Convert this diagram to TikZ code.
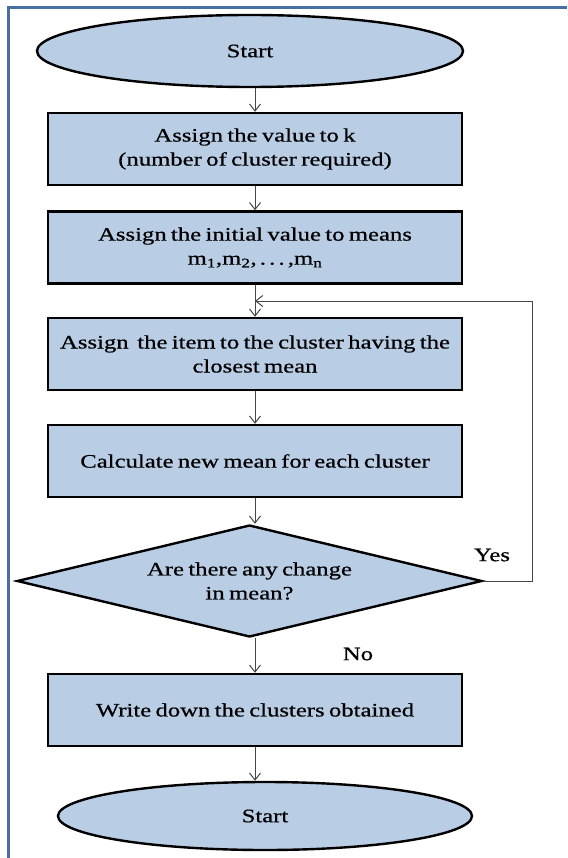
\documentclass[tikz,border=0pt]{standalone}
\usepackage{fontspec}
\setmainfont{Liberation Serif}[FakeStretch=1.3,WordSpace=0.7,FakeBold=0.6]
\usetikzlibrary{shapes.geometric,arrows.meta}
\definecolor{boxblue}{RGB}{185,205,229}
\definecolor{framblue}{RGB}{72,110,164}
\definecolor{linegray}{RGB}{70,70,70}
\tikzset{
  stepbox/.style={draw,line width=2.4pt,fill=boxblue,rectangle,
    minimum width=414pt,minimum height=72pt,inner sep=0pt,align=center},
  term/.style={draw,line width=2.4pt,fill=boxblue,ellipse,inner sep=0pt},
  test/.style={draw,line width=2.4pt,fill=boxblue,diamond,inner sep=0pt,
    shape aspect=4.15,minimum width=465pt,minimum height=112pt,align=center},
  flow/.style={draw=linegray,line width=1pt,-{Straight Barb[length=7pt,width=11pt]}},
}
\begin{document}
\begin{tikzpicture}[x=1pt,y=-1pt,font=\fontsize{19}{24}\selectfont]
      \useasboundingbox (0,0) rectangle (567,858);
      \draw[framblue,line width=3pt] (567,7.5) -- (8.5,7.5) -- (8.5,858);
      \draw
        (250,51) node[term,minimum width=426pt,minimum height=72pt] (start){Start}
        (255,149) node[stepbox] (k){Assign the value to k\\(number of cluster required)}
        (255,247.5) node[stepbox] (init){Assign the initial value to means\\
          m\textsubscript{1},m\textsubscript{2},\,.\,.\,.\,,m\textsubscript{n}}
        (255,354) node[stepbox] (assign){Assign\ \ the item to the cluster having the\\closest mean}
        (255,461) node[stepbox] (calc){Calculate new mean for each cluster}
        (249.5,581) node[test] (change){Are there any change\\in mean?}
        (255,710) node[stepbox] (write){Write down the clusters obtained}
        (265,816) node[term,minimum width=414pt,minimum height=68pt] (stop){Start};
      \coordinate (loop) at (532,301);
      \node (yes) at (492,555) {Yes};
      \node (no) at (358,654) {No};
      \begin{scope}[flow]
        \draw (start.south -| k) to (k);
        \draw (k) to (init);
        \draw (init) to (assign);
        \draw (assign) to (calc);
        \draw (calc) to (calc |- change.north);
        \draw (change.south -| write) to (write);
        \draw (write) to (write |- stop.north);
        \draw (change.east) -| (loop) -- (loop -| assign);
      \end{scope}
    \end{tikzpicture}
\end{document}
